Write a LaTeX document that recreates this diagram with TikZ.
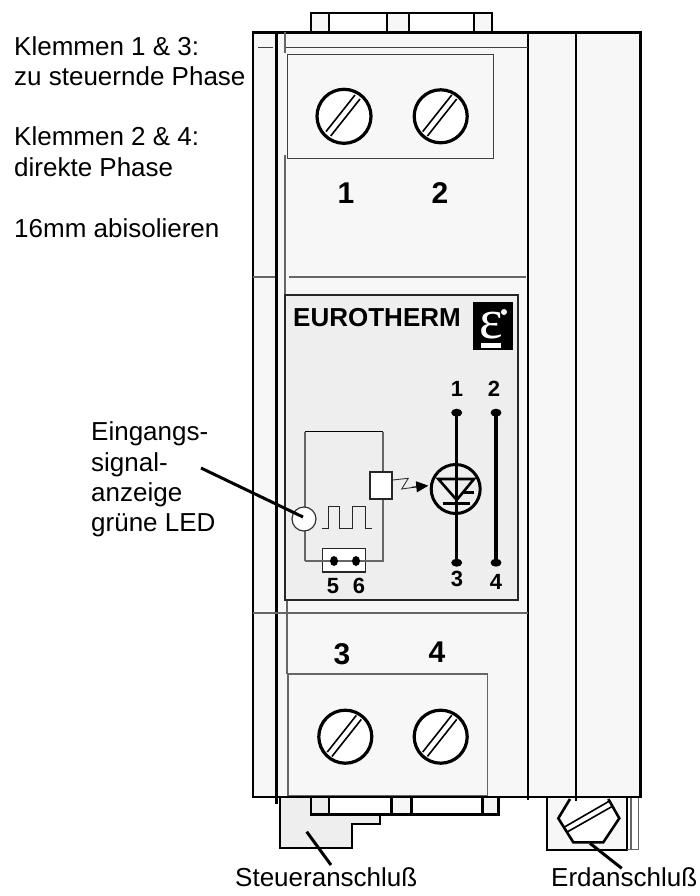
\documentclass[tikz,border=0pt]{standalone}
\usepackage{fontspec}
\setmainfont{Liberation Sans}
\newfontfamily\logofont{Liberation Serif}
\usetikzlibrary{arrows.meta}
\definecolor{bodyfill}{HTML}{F7F7F7}
\definecolor{panelfill}{HTML}{EEEEEE}
\definecolor{linegray}{HTML}{666666}
\tikzset{
  heavy/.style={draw=black,line width=2.6pt},
  medium/.style={draw=black,line width=2pt},
  thingray/.style={draw=linegray,line width=1.6pt},
  thindark/.style={draw=black!75,line width=1.2pt},
  caption/.style={font=\fontsize{26}{28}\selectfont,anchor=base west,inner sep=0pt},
  bignum/.style={font=\fontsize{30}{32}\selectfont\bfseries,inner sep=0pt},
  smallnum/.style={font=\fontsize{22}{24}\selectfont\bfseries,inner sep=0pt},
  leader/.style={draw=black,line width=3pt},
  screwhead/.style={circle,draw=black,line width=3.2pt,fill=white,minimum size=53pt,inner sep=0pt},
}
\newcommand{\slotlines}[2]{%
  \draw[line width=1.6pt] (#1-18,#2+15.3) -- (#1+11,#2-21.3);
  \draw[line width=1.6pt] (#1-13.3,#2+19.7) -- (#1+16,#2-17.3);}
\begin{document}
\begin{tikzpicture}[x=1pt,y=-1pt]
\useasboundingbox (0,0) rectangle (699,896);
% earth terminal
\fill[bodyfill] (547,797) rectangle (626.5,849.5);
\draw[medium] (547,797) -- (547,849.5) -- (626.5,849.5) -- (626.5,797);
\draw[thingray,line width=1.2pt] (626.5,849.5) -- (638.5,849.5) -- (638.5,797);
\draw[thingray,line width=1.2pt] (631,797) -- (631,849.5);
\draw[heavy,fill=white] (570,799) -- (558.3,818.3) -- (573.3,842.3) -- (603.3,842.3) -- (619.3,818.3) -- (608.3,799);
\draw[line width=1.6pt] (565,826.7) -- (610,800.7);
\draw[line width=1.6pt] (567.7,831.7) -- (611.7,806.7);
% control connector
\draw[medium,fill=panelfill] (280,797) -- (280,848) -- (351.7,848) -- (351.7,824.3) -- (380,824.3) -- (380,800);
% bottom tabs
\draw[heavy,fill=panelfill] (311,797) rectangle (329,814.5);
\draw[heavy,fill=white] (329,797) rectangle (391.7,814.5);
\draw[heavy,fill=bodyfill] (391.7,797) rectangle (411.7,814.5);
\draw[heavy,fill=white] (411.7,797) rectangle (482.3,814.5);
\draw[heavy,fill=bodyfill] (482.3,797) rectangle (498.3,814.5);
% top tabs
\draw[medium,fill=bodyfill] (311,13) rectangle (329,32);
\draw[medium,fill=white] (329,13) rectangle (387,32);
\draw[medium,fill=bodyfill] (387,13) rectangle (409,32);
\draw[medium,fill=white] (409,13) rectangle (474,32);
\draw[medium,fill=bodyfill] (474,13) rectangle (492,32);
% body
\draw[heavy,fill=bodyfill] (253,32.5) rectangle (640.5,797);
\draw[heavy] (276.7,32.5) -- (276.7,804);
\draw[heavy] (528,32.5) -- (528,800);
\draw[heavy] (576,32.5) -- (576,801);
\draw[thingray] (285,32.5) -- (285,53);
\draw[thingray] (285,155) -- (285,295);
\draw[thingray] (287,601) -- (287,674);
\draw[thindark,line width=1.4pt] (258,47.5) -- (273,47.5);
\draw[thindark,line width=1.4pt] (286,47.5) -- (528,47.5);
\draw[thingray] (253,276.7) -- (275,276.7);
\draw[thingray] (289,276.7) -- (526,276.7);
\draw[thingray] (253,612.7) -- (528,612.7);
% terminal frames
\draw[thindark] (287.7,54.5) rectangle (493.7,158.5);
\draw[thingray] (287.7,674) rectangle (487.3,795.5);
% screws
\node[screwhead,minimum size=54pt] (s1) at (344,116.3) {};
\node[screwhead] (s2) at (440.7,116.3) {};
\node[screwhead] (s3) at (345.3,736.7) {};
\node[screwhead] (s4) at (440.7,736.7) {};
\slotlines{344}{116.3}
\slotlines{440.7}{116.3}
\slotlines{345.3}{736.7}
\slotlines{440.7}{736.7}
\node[bignum] (n1) at (346,193) {1};
\node[bignum] (n2) at (440,193) {2};
\node[bignum] (n3) at (342,654) {3};
\node[bignum] (n4) at (437,652) {4};
% panel
\draw[draw=black!85,line width=2.2pt,fill=panelfill] (285,295) rectangle (517.7,600);
\node[font=\fontsize{26}{28}\selectfont\bfseries,inner sep=0pt,anchor=base] (brand) at (377,326) {EUROTHERM};
\fill[black] (473,302) rectangle (513,350);
\node[font=\logofont\fontsize{56}{56}\selectfont,text=white,inner sep=0pt] (eps) at (491.5,326) {ε};
\fill[white] (481,343) rectangle (501,348);
\fill[white] (504,312) circle (3);
% circuit
\draw[thingray] (305,561) -- (305,431.5);
\draw[black,line width=1.4pt] (305,431.5) -- (383,431.5);
\draw[thingray] (383,431.5) -- (383,561) -- (305,561);
\node[circle,draw=black!80,line width=1.2pt,fill=white,minimum size=24pt,inner sep=0pt] (led) at (304,519) {};
\draw[black!85,line width=1.4pt,fill=white] (370,472) rectangle (392,499);
\draw[black!85,line width=1.4pt,fill=white] (322.3,548.3) rectangle (365.7,572);
\draw[linegray,line width=1.2pt] (322.3,561) -- (366,561);
\fill (334,561) ellipse (4 and 5);
\fill (356,561) ellipse (4 and 5);
\draw[black!85,line width=1.2pt] (321.7,528.3) -- (328.3,528.3) -- (328.3,506.7) -- (339.3,506.7) -- (339.3,528.3) -- (352.7,528.3) -- (352.7,506.7) -- (365.7,506.7) -- (365.7,528.3) -- (371.7,528.3);
\draw[black!80,line width=.9pt] (392.7,480) -- (408.3,478.3) -- (401.7,489) -- (418,486.7);
\draw[line width=.9pt,-{Triangle[length=12pt,width=11pt]}] (412,487.2) -- (428.3,485.7);
% solid-state element
\node[circle,draw=black,line width=3pt,minimum size=49pt,inner sep=0pt] (triac) at (455.7,489) {};
\draw[line width=3.2pt] (456.7,412.7) -- (456.7,562.7);
\draw[line width=3.2pt] (496,412.7) -- (496,562.7);
\fill (456.7,412.7) ellipse (5.5 and 4);
\fill (496,412.7) ellipse (5.5 and 4);
\fill (456.7,562.7) ellipse (5.5 and 4);
\fill (496,562.7) ellipse (5.5 and 4);
\draw[line width=2.6pt,line join=miter] (438.3,479) -- (474,479) -- (456.7,500) -- cycle;
\draw[line width=2.6pt] (442.7,503.3) -- (470,503.3);
\draw[line width=2.6pt] (461.7,492.3) -- (474,492.3);
\node[smallnum] (p1) at (457,389) {1};
\node[smallnum] (p2) at (494,389) {2};
\node[smallnum] (p3) at (457,579) {3};
\node[smallnum] (p4) at (496,582) {4};
\node[smallnum] (p5) at (333,586) {5};
\node[smallnum] (p6) at (359,586) {6};
% captions
\node[caption] (c1) at (14,56) {Klemmen 1 \& 3:};
\node[caption] (c2) at (14,86) {zu steuernde Phase};
\node[caption] (c3) at (14,146) {Klemmen 2 \& 4:};
\node[caption] (c4) at (14,176.7) {direkte Phase};
\node[caption] (c5) at (14,237) {16mm abisolieren};
\node[caption] (e1) at (91,440.7) {Eingangs-};
\node[caption] (e2) at (91,471) {signal-};
\node[caption] (e3) at (91,501.7) {anzeige};
\node[caption] (e4) at (91,531.7) {grüne LED};
\node[caption] (st) at (235,886) {Steueranschluß};
\node[caption] (er) at (551,886) {Erdanschluß};
% leaders
\coordinate (l1a) at (201,468);
\coordinate (l1b) at (303,517);
\draw[leader] (l1a) -- (l1b);
\coordinate (l2a) at (306.7,831.7);
\coordinate (l2b) at (331,865);
\draw[leader] (l2a) -- (l2b);
\coordinate (l3a) at (590,843.3);
\coordinate (l3b) at (621.7,868.3);
\draw[leader] (l3a) -- (l3b);
\end{tikzpicture}
\end{document}
